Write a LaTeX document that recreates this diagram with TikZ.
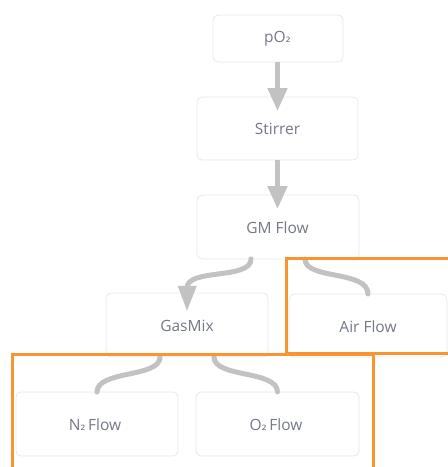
\documentclass[tikz,border=0pt]{standalone}
\usepackage{fontspec}
\setmainfont{Open Sans}
\newfontfamily\subfont{DejaVu Sans}
\usetikzlibrary{arrows.meta}
\definecolor{boxline}{HTML}{E8E8E8}
\definecolor{conn}{HTML}{C2C2C2}
\definecolor{txt}{HTML}{747986}
\definecolor{hl}{HTML}{F7962F}
\newcommand{\subtwo}{{\subfont\fontsize{13}{10}\selectfont ₂}}
\tikzset{
  stage/.style={draw=boxline, line width=0.8pt, rounded corners=5pt, fill=white},
  lbl/.style={text=txt, font=\fontsize{15.5}{17}\selectfont, inner sep=0pt},
  flowarrow/.style={draw=conn, line width=5pt, -{Triangle[length=23pt,width=19pt]}, shorten >=-14pt},
  flowline/.style={draw=conn, line width=5pt, line cap=round},
  group/.style={draw=hl, line width=3pt}
}
\begin{document}
\begin{tikzpicture}[x=1pt,y=-1pt]
\useasboundingbox (0,0) rectangle (448,467);
\clip (0,0) rectangle (448,467);
% boxes
\draw[stage] (213,15) rectangle (343,62);
\node[lbl] (po2) at (277.5,39) {pO\subtwo};
\coordinate (po2b) at (277.5,62);
\draw[stage] (197,97) rectangle (358,160);
\node[lbl] (stir) at (277.5,129) {Stirrer};
\coordinate (stirt) at (277.5,97);
\coordinate (stirb) at (277.5,160);
\draw[stage] (197,195) rectangle (359,259);
\node[lbl] (gm) at (277.5,228) {GM Flow};
\coordinate (gmt) at (277.5,195);
\coordinate (gml) at (251,259);
\coordinate (gmr) at (305,259);
\draw[stage] (106,293) rectangle (268,357);
\node[lbl] (gas) at (187,326) {GasMix};
\coordinate (gast) at (187,293);
\coordinate (gasl) at (160,357);
\coordinate (gasr) at (214,357);
\draw[stage] (289,294) rectangle (447,357);
\node[lbl] (air) at (368,327) {Air Flow};
\coordinate (airt) at (368,294);
\draw[stage] (16,392) rectangle (178,456);
\node[lbl] (n2) at (95,425) {N\subtwo\hspace{2.5pt}Flow};
\coordinate (n2t) at (97,392);
\draw[stage] (196,392) rectangle (359,456);
\node[lbl] (o2) at (276,425) {O\subtwo\hspace{2.5pt}Flow};
\coordinate (o2t) at (277.5,392);
% connectors
\draw[flowarrow] (po2b) -- (stirt);
\draw[flowarrow] (stirb) -- (gmt);
\draw[flowline] (gml) .. controls (251,280) and (187,268) .. (187,288);
\draw[conn, fill=conn] (178,286) -- (196.5,286) -- (187,310) -- cycle;
\draw[flowline] (gmr) .. controls (305,280) and (368,270) .. (airt);
\draw[flowline] (gasl) .. controls (160,378) and (97,370) .. (n2t);
\draw[flowline] (gasr) .. controls (214,378) and (277.5,370) .. (o2t);
% groups
\draw[group] (286,258) rectangle (460,353.5);
\draw[group] (12,354) rectangle (373,480);
\end{tikzpicture}
\end{document}
